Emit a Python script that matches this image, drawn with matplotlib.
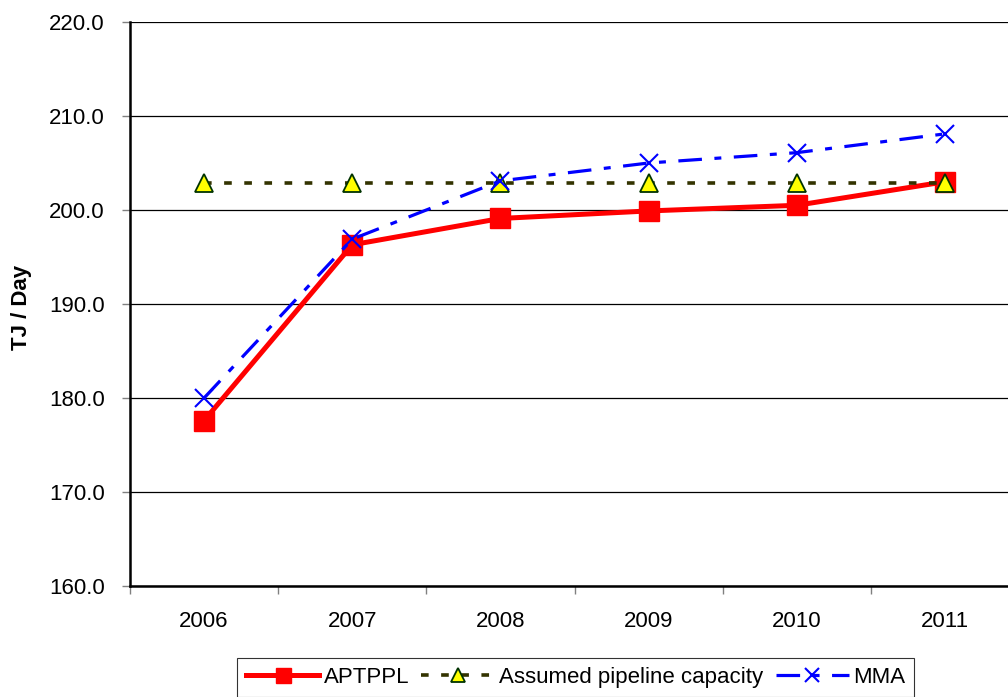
import matplotlib
matplotlib.use("Agg")
import matplotlib.pyplot as plt
from matplotlib.ticker import FixedLocator, FuncFormatter

plt.rcParams['font.family'] = ['Liberation Sans', 'DejaVu Sans']
plt.rcParams['lines.scale_dashes'] = False

years = ["2006", "2007", "2008", "2009", "2010", "2011"]
aptppl = [177.6, 196.3, 199.1, 199.9, 200.5, 203.0]
capacity = [202.9, 202.9, 202.9, 202.9, 202.9, 202.9]
mma = [180.0, 196.9, 203.1, 205.0, 206.1, 208.1]

FS = 16

fig = plt.figure(figsize=(10.08, 6.97), dpi=100)
ax = fig.add_axes([130/1008, 1-586/697, (1019-130)/1008, (586-22)/697])
x = list(range(len(years)))

ax.plot(x, aptppl, color='#ff0000', lw=3.6, marker='s', ms=14.4,
        mfc='#ff0000', mec='#ff0000', label='APTPPL', zorder=3)
ax.plot(x, capacity, color='#333300', lw=2.6, dashes=(5.5, 9), marker='^', ms=13,
        mfc='#ffff00', mec='#003300', mew=1.3, label='Assumed pipeline capacity', zorder=4)
ax.plot(x, mma, color='#0000ff', lw=2.3, dashes=(17, 9, 5, 9), marker='x', ms=13,
        mew=1.5, mec='#0000ff', label='MMA', zorder=5)

ax.set_xlim(-0.5, 5.5)
ax.set_ylim(160, 220)
ax.set_yticks([160, 170, 180, 190, 200, 210, 220])
ax.yaxis.set_major_formatter(FuncFormatter(lambda v, p: f"{v:.1f}"))
ax.set_xticks(x)
ax.set_xticklabels(years)
ax.xaxis.set_minor_locator(FixedLocator([i - 0.5 for i in range(len(years) + 1)]))
ax.tick_params(axis='x', which='major', length=0, pad=18, labelsize=FS)
ax.tick_params(axis='x', which='minor', length=6, width=1, color='#808080', direction='out')
ax.tick_params(axis='y', length=6, width=1, color='#808080', direction='out', labelsize=FS, pad=12)
ax.grid(axis='y', color='#000000', lw=0.9)
ax.set_axisbelow(True)
for s in ['top', 'right']:
    ax.spines[s].set_visible(False)
ax.spines['left'].set_linewidth(1.8)
ax.spines['bottom'].set_linewidth(1.8)
ax.set_ylabel('TJ / Day', fontsize=FS, fontweight='bold', va='center')
ax.yaxis.set_label_coords((22-130)/889, 0.494)

leg = fig.legend(loc='upper left', bbox_to_anchor=(237/1008, 1-658/697), ncol=3,
                 fontsize=FS, frameon=True, fancybox=False, edgecolor='#000000',
                 borderaxespad=0, handlelength=3.3, columnspacing=0.55, handletextpad=0.2,
                 borderpad=0.4, markerscale=0.75)
leg.get_frame().set_linewidth(0.8)

fig.savefig('out.png', dpi=100)
